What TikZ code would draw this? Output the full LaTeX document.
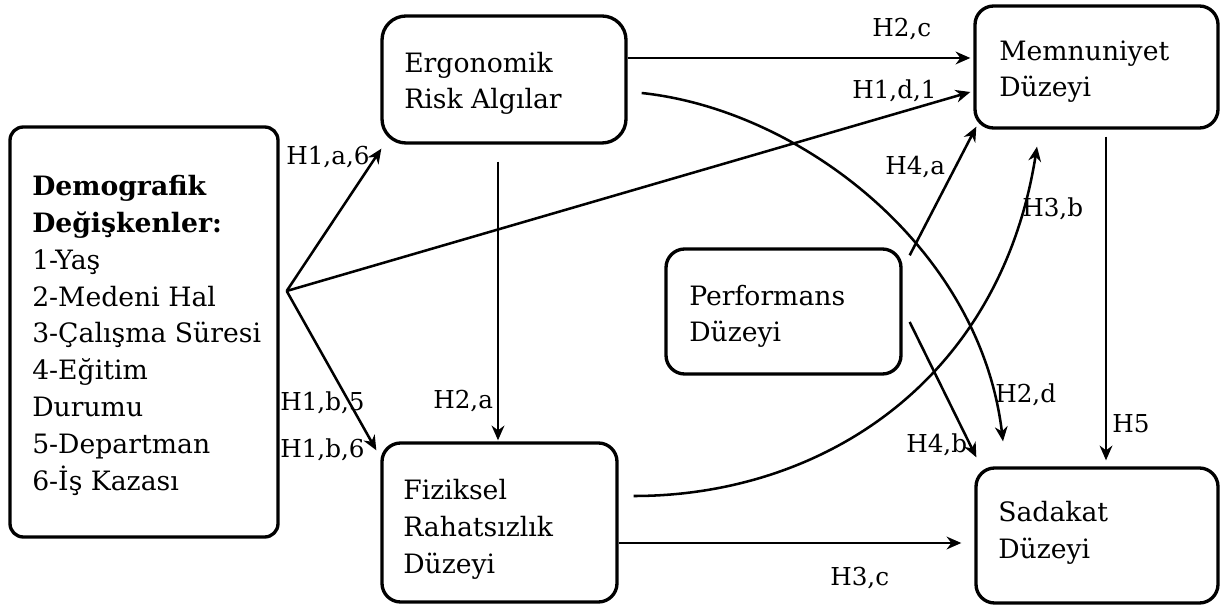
\documentclass[tikz,border=0pt]{standalone}
\usepackage{fontspec}
\setmainfont{DejaVu Serif}
\usetikzlibrary{arrows.meta,calc}
\begin{document}
\begin{tikzpicture}[x=0.75pt,y=-0.75pt,
  box/.style={draw, line width=2.5pt, rounded corners=14pt, inner sep=0pt},
  arr/.style={line width=1.9pt, -{Stealth[length=11pt,width=9.5pt,inset=3.5pt]}},
  lbl/.style={font=\fontsize{18.5}{22}\selectfont, anchor=base west, inner sep=0pt},
  txt/.style={font=\fontsize{20}{27.6}\selectfont, anchor=base west, inner sep=0pt, align=left}]
\useasboundingbox (0,0) rectangle (1220,605);

% boxes
\node[box, rounded corners=10pt, minimum width=201pt, minimum height=307.5pt] (demo) at (144,332) {};
\node[box, rounded corners=18pt, minimum width=183pt, minimum height=95.25pt] (erg) at (504,79.5) {};
\node[box, minimum width=182.25pt, minimum height=91.5pt] (mem) at (1096.5,67) {};
\node[box, minimum width=176.25pt, minimum height=93.75pt] (perf) at (783.5,311.5) {};
\node[box, minimum width=176.25pt, minimum height=119.25pt] (fiz) at (499.5,522.5) {};
\node[box, minimum width=181.5pt, minimum height=101.25pt] (sad) at (1097,535.5) {};

% box texts (anchor at baseline of last line)
\node[txt] (demoT) at (32,490) {\textbf{Demografik}\\\textbf{Değişkenler:}\\1-Yaş\\2-Medeni Hal\\3-Çalışma Süresi\\4-Eğitim\\Durumu\\5-Departman\\6-İş Kazası};
\node[txt] (ergT) at (404,109) {Ergonomik\\Risk Algılar};
\node[txt] (memT) at (999,97) {Memnuniyet\\Düzeyi};
\node[txt] (perfT) at (689,342) {Performans\\Düzeyi};
\node[txt] (fizT) at (403,573) {Fiziksel\\Rahatsızlık\\Düzeyi};
\node[txt] (sadT) at (998,558) {Sadakat\\Düzeyi};

% connectors
\draw[arr] ($(erg.east)+(0,-21.5)$) -- ($(mem.west)+(-3,-9)$);
\draw[arr] ($(demo.east)+(7,-41)$) -- ($(mem.west)+(-3,25)$);
\draw[arr] ($(demo.east)+(7,-41)$) -- ($(erg.south west)+(1,4)$);
\draw[arr] ($(demo.east)+(7,-41)$) -- ($(fiz.north west)+(-4,9)$);
\draw[arr] ($(erg.south)+(-6,17)$) -- ($(fiz.north)+(-1.5,-1)$);
\draw[arr] ($(erg.east)+(14,13.5)$) .. controls +(160,17) and +(-23,-193) .. ($(sad.north)+(-94,-25)$);
\draw[arr] ($(perf.north east)+(7,8)$) -- ($(mem.south west)+(3,-3)$);
\draw[arr] ($(perf.east)+(7,10.5)$) -- ($(sad.north west)+(2,-9)$);
\draw[arr] ($(fiz.east)+(15,-26.5)$) .. controls +(188,0) and +(-37,235) .. ($(mem.south)+(-59.5,17)$);
\draw[arr] ($(mem.south)+(9.5,7)$) -- ($(sad.north)+(9,-6)$);
\draw[arr] ($(fiz.east)+(0,20.5)$) -- ($(sad.west)+(-13,7.5)$);

% labels
\node[lbl] (l1) at (872,37) {H2,c};
\node[lbl] (l2) at (852,99) {H1,d,1};
\node[lbl] (l3) at (286,165) {H1,a,6};
\node[lbl] (l4) at (885,175) {H4,a};
\node[lbl] (l5) at (1022,217) {H3,b};
\node[lbl] (l6) at (280,411) {H1,b,5};
\node[lbl] (l7) at (280,457) {H1,b,6};
\node[lbl] (l8) at (433,409) {H2,a};
\node[lbl] (l9) at (995,403) {H2,d};
\node[lbl] (l10) at (1112,433) {H5};
\node[lbl] (l11) at (906,453) {H4,b};
\node[lbl] (l12) at (830,585) {H3,c};
\end{tikzpicture}
\end{document}
